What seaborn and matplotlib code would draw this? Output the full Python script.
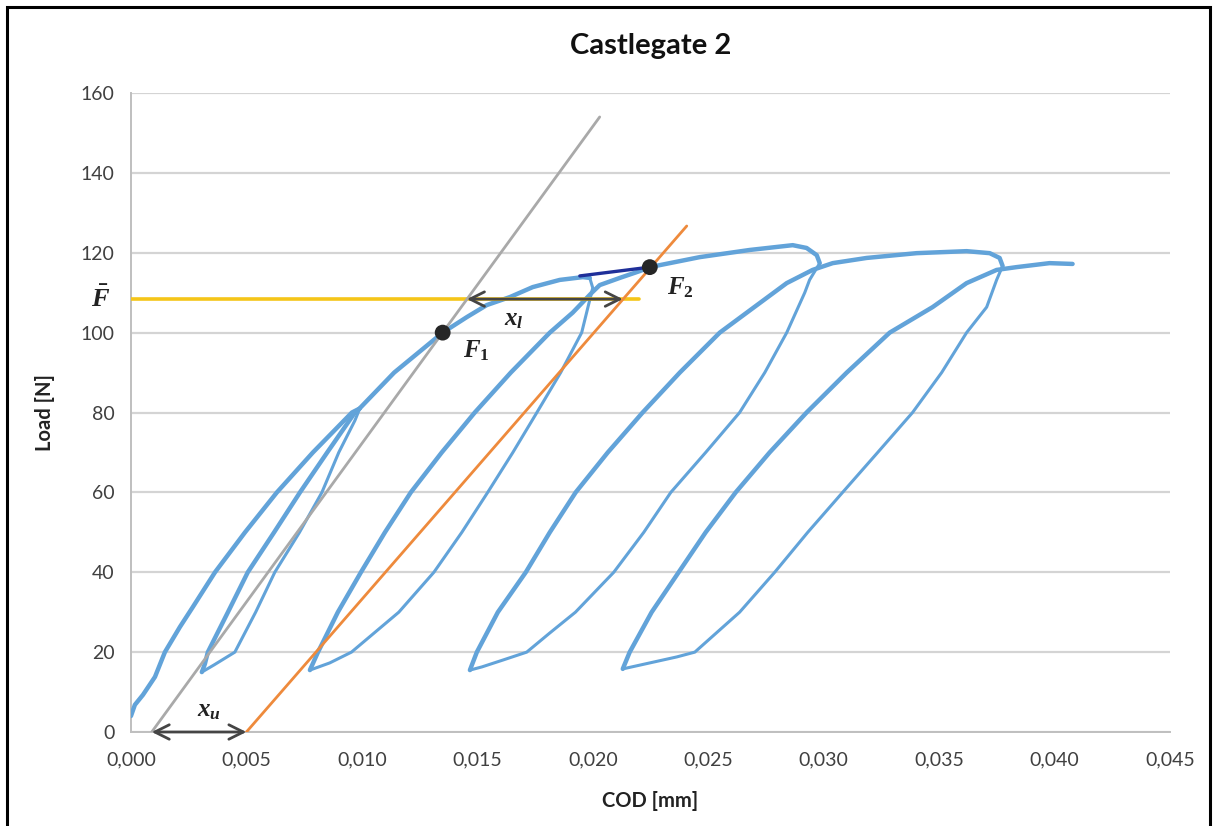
import matplotlib
matplotlib.use("Agg")
import matplotlib.pyplot as plt
import seaborn as sns
from matplotlib.patches import Rectangle
from matplotlib.ticker import FuncFormatter, MultipleLocator

# --- blue COD / load record, read off the chart branch by branch ---
# first loading up to ~80 N
load1_cod = [0.0000, 0.00017, 0.00052, 0.00104, 0.00147, 0.00212, 0.00268,
             0.00364, 0.00494, 0.00632, 0.00788, 0.00957, 0.00991]
load1_n = [4.0, 6.8, 9.3, 13.8, 20.0, 26.3, 31.3, 40.0, 50.0, 60.0, 70.0, 80.0, 81.0]

unload1_cod = [0.00991, 0.0097, 0.0090, 0.00827, 0.0073, 0.00623, 0.0054,
               0.0045, 0.0036, 0.00307]
unload1_n = [81.0, 78.0, 70.0, 60.0, 50.0, 40.0, 30.0, 20.0, 16.8, 15.0]

reload1_cod = [0.00307, 0.0032, 0.00333, 0.0042, 0.00506, 0.0062, 0.00732, 0.0085,
               0.0097, 0.0099, 0.0114, 0.0135, 0.01455, 0.01541, 0.01641, 0.0174,
               0.01857, 0.01957, 0.01987]
reload1_n = [15.0, 17.0, 20.0, 30.0, 40.0, 50.0, 60.0, 70.0, 80.0, 81.0, 90.0, 100.0,
             103.9, 106.9, 108.9, 111.4, 113.2, 113.9, 113.7]

unload2_cod = [0.01987, 0.0200, 0.01987, 0.01952, 0.01861, 0.01758, 0.01654, 0.01545,
               0.01433, 0.01312, 0.01160, 0.00955, 0.00861, 0.00775]
unload2_n = [113.7, 111.2, 108.2, 100.0, 90.0, 80.0, 70.0, 60.0, 50.0, 40.0, 30.0,
             20.0, 17.3, 15.5]

reload2_cod = [0.00775, 0.0081, 0.00896, 0.00996, 0.0110, 0.01212, 0.01346, 0.01489,
               0.01645, 0.01814, 0.01913, 0.01996, 0.0203, 0.02117, 0.02203, 0.02247,
               0.02463, 0.0268, 0.02866, 0.02926, 0.0297, 0.02983]
reload2_n = [15.5, 20.0, 30.0, 40.0, 50.0, 60.0, 70.0, 80.0, 90.0, 100.0, 105.0, 110.0,
             111.9, 113.7, 115.4, 116.4, 118.9, 120.7, 121.9, 121.2, 119.4, 117.4]

unload3_cod = [0.02983, 0.02939, 0.02918, 0.0284, 0.02745, 0.02636, 0.02489, 0.02338,
               0.02221, 0.02091, 0.01925, 0.01814, 0.01714, 0.0161, 0.0152, 0.01468]
unload3_n = [117.4, 113.2, 110.0, 100.0, 90.0, 80.0, 70.0, 60.0, 50.0, 40.0, 30.0,
             24.8, 20.0, 18.0, 16.3, 15.5]

reload3_cod = [0.01468, 0.01498, 0.01589, 0.0171, 0.01814, 0.01926, 0.02065, 0.02216,
               0.02377, 0.0255, 0.02723, 0.0284, 0.02952, 0.03039, 0.03186, 0.03403,
               0.03619, 0.03719, 0.03762, 0.03775]
reload3_n = [15.5, 20.0, 30.0, 40.0, 50.0, 60.0, 70.0, 80.0, 90.0, 100.0, 107.4, 112.4,
             115.7, 117.4, 118.7, 119.9, 120.4, 119.9, 118.7, 116.7]

unload4_cod = [0.03775, 0.03749, 0.03706, 0.03619, 0.03511, 0.03385, 0.03234, 0.03082,
               0.02931, 0.02788, 0.02636, 0.02442, 0.02364, 0.02247, 0.0213]
unload4_n = [116.7, 113.2, 106.4, 100.0, 90.0, 80.0, 70.0, 60.0, 50.0, 40.0, 30.0,
             20.0, 18.8, 17.3, 15.8]

reload4_cod = [0.0213, 0.0216, 0.02255, 0.02372, 0.02489, 0.02619, 0.02766, 0.02926,
               0.0310, 0.03286, 0.03472, 0.03619, 0.03749, 0.03835, 0.03978, 0.04078]
reload4_n = [15.8, 20.0, 30.0, 40.0, 50.0, 60.0, 70.0, 80.0, 90.0, 100.0, 106.4, 112.4,
             115.7, 116.4, 117.4, 117.2]

# construction lines
grey_cod = [0.0009, 0.0203]
grey_n = [0.0, 154.0]
orange_cod = [0.0050, 0.02407]
orange_n = [0.0, 126.7]
fbar_cod = [0.0, 0.0220]
fbar_n = [108.4, 108.4]
navy_cod = [0.01944, 0.0222]
navy_n = [114.2, 116.2]
points_cod = [0.0135, 0.02247]
points_n = [100.0, 116.4]
xl_cod = [0.01455, 0.02130]
xu_cod = [0.0009, 0.0050]

blue = "#62A3D9"

sns.set_theme(style="white")
plt.rcParams["font.family"] = ["Lato", "DejaVu Sans"]
plt.rcParams["mathtext.fontset"] = "custom"
plt.rcParams["mathtext.it"] = "Liberation Serif:italic:bold"
plt.rcParams["mathtext.rm"] = "Liberation Serif:bold"

fig = plt.figure(figsize=(12.17, 8.26), dpi=100)
ax = fig.add_axes([0.1076, 0.1138, 0.9614 - 0.1076, 0.8874 - 0.1138])

branches = [
    (load1_cod, load1_n, 3.2), (unload1_cod, unload1_n, 2.2),
    (reload1_cod, reload1_n, 3.2), (unload2_cod, unload2_n, 2.2),
    (reload2_cod, reload2_n, 3.2), (unload3_cod, unload3_n, 2.2),
    (reload3_cod, reload3_n, 3.2), (unload4_cod, unload4_n, 2.2),
    (reload4_cod, reload4_n, 3.2),
]
for cod, n, w in branches:
    sns.lineplot(x=cod, y=n, sort=False, estimator=None, color=blue, lw=w, ax=ax, zorder=3)

sns.lineplot(x=fbar_cod, y=fbar_n, sort=False, estimator=None, color="#F5C518", lw=2.6, ax=ax, zorder=4)
sns.lineplot(x=grey_cod, y=grey_n, sort=False, estimator=None, color="#A9A9A9", lw=2.0, ax=ax, zorder=4)
sns.lineplot(x=orange_cod, y=orange_n, sort=False, estimator=None, color="#EE8A3C", lw=2.0, ax=ax, zorder=4)
sns.lineplot(x=navy_cod, y=navy_n, sort=False, estimator=None, color="#1F2F99", lw=2.4, ax=ax, zorder=5)
sns.scatterplot(x=points_cod, y=points_n, color="#262626", s=130, edgecolor="none", ax=ax, zorder=6)

arrow = dict(arrowstyle="<->", color="#454545", lw=2.0, mutation_scale=26, shrinkA=0, shrinkB=0)
ax.annotate("", xy=(xl_cod[1], fbar_n[0]), xytext=(xl_cod[0], fbar_n[0]), arrowprops=arrow, zorder=6)
ax.annotate("", xy=(xu_cod[1], 0.0), xytext=(xu_cod[0], 0.0), arrowprops=arrow, zorder=6,
            annotation_clip=False)

lab = dict(fontsize=18, color="#222222", zorder=7)
ax.text(0.0144, 95.5, r"$F_1$", ha="left", va="center", **lab)
ax.text(0.0232, 111.3, r"$F_2$", ha="left", va="center", **lab)
ax.text(0.0166, 103.3, r"$x_l$", ha="center", va="center", **lab)
ax.text(0.0034, 5.5, r"$x_u$", ha="center", va="center", **lab)
ax.text(-0.020, fbar_n[0], r"$\bar{F}$", transform=ax.get_yaxis_transform(),
        ha="right", va="center", fontsize=19, color="#222222")

ax.set_xlim(0, 0.045)
ax.set_ylim(0, 160)
ax.xaxis.set_major_locator(MultipleLocator(0.005))
ax.yaxis.set_major_locator(MultipleLocator(20))
ax.xaxis.set_major_formatter(FuncFormatter(lambda v, p: f"{v:.3f}".replace(".", ",")))
ax.grid(axis="y", color="#D4D4D4", lw=1.6)
ax.grid(axis="x", visible=False)
ax.tick_params(axis="x", labelsize=14, colors="#404040", length=0, pad=14)
ax.tick_params(axis="y", labelsize=14, colors="#404040", length=0, pad=12)
for side in ["top", "right"]:
    ax.spines[side].set_visible(False)
for side in ["left", "bottom"]:
    ax.spines[side].set_color("#BFBFBF")
    ax.spines[side].set_linewidth(1.4)

ax.set_title("Castlegate 2", fontsize=21, fontweight="bold", color="#111111", pad=28)
ax.set_xlabel("COD [mm]", fontsize=14.5, fontweight="bold", color="#222222", labelpad=16)
ax.set_ylabel("Load [N]", fontsize=14.5, fontweight="bold", color="#222222", labelpad=18)

fig.patches.append(Rectangle((0.006, -0.02), 0.988, 1.012, transform=fig.transFigure,
                             fill=False, edgecolor="black", lw=2.2))

fig.savefig("out.png", dpi=100)
